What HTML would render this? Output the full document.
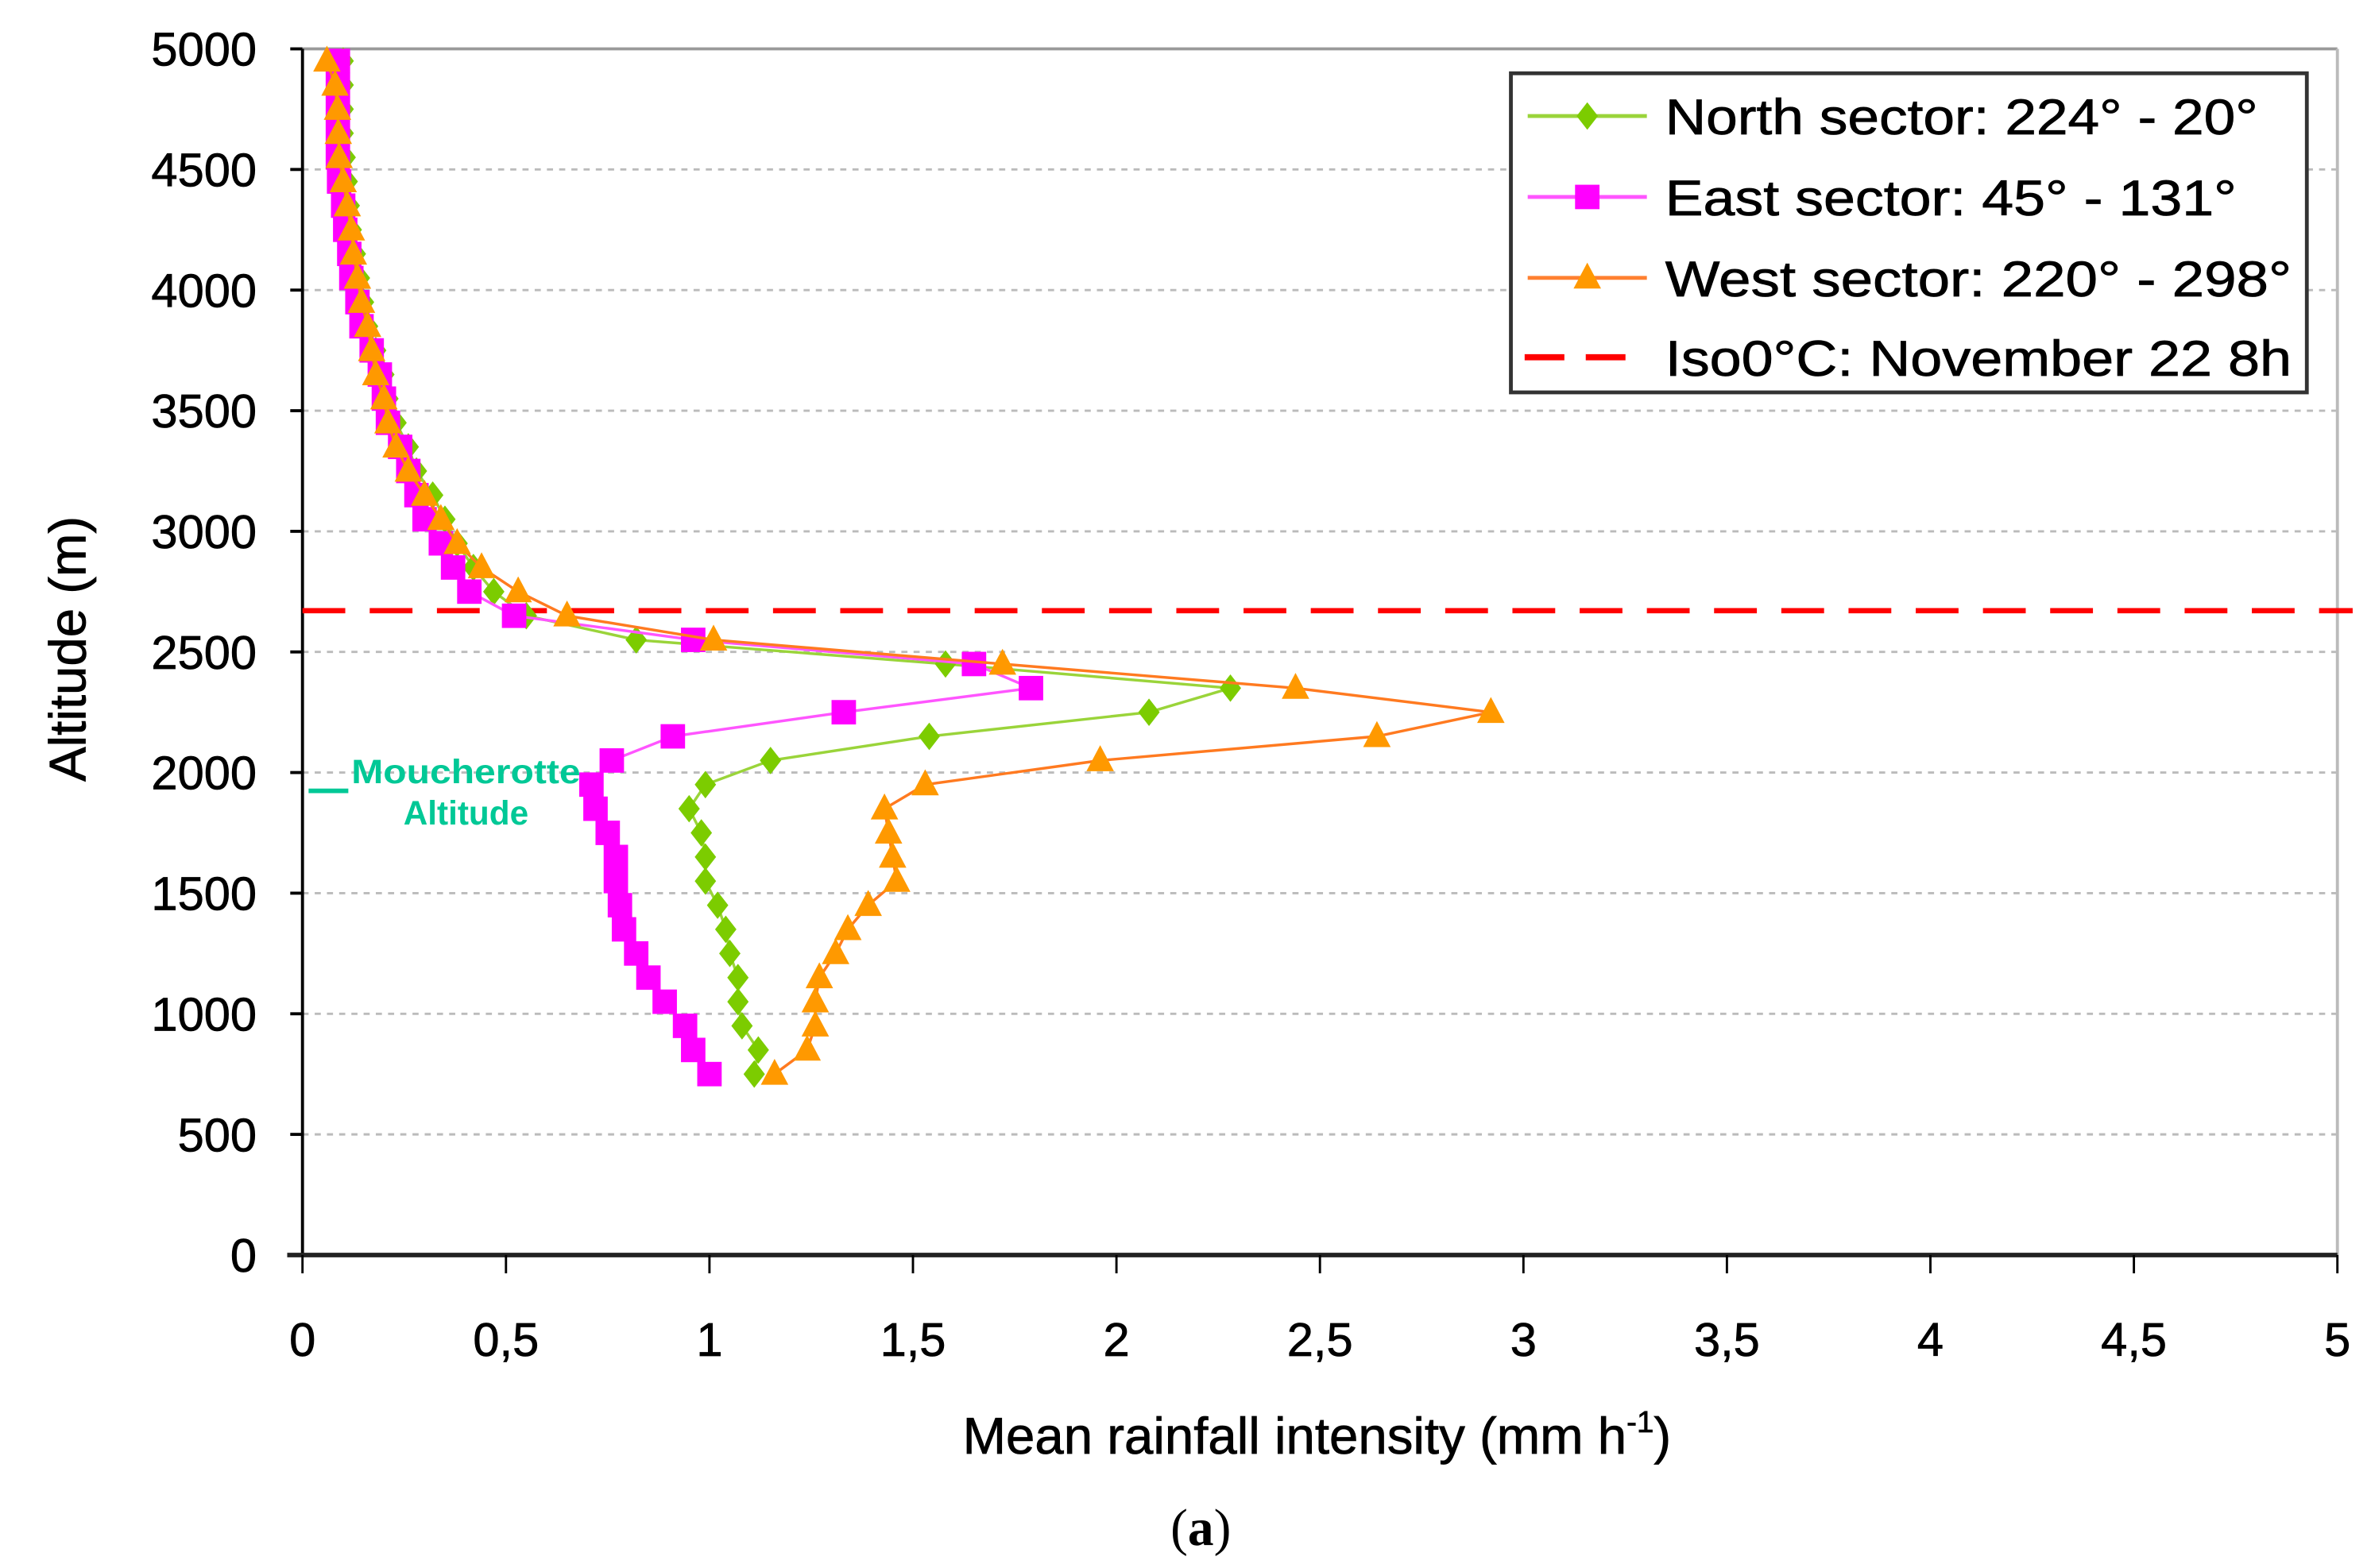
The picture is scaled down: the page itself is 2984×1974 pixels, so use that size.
<!DOCTYPE html>
<html><head><meta charset="utf-8"><style>
html,body{margin:0;padding:0;background:#fff}
svg{display:block}
text{font-family:"Liberation Sans",sans-serif}
</style></head><body>
<svg id="chart" width="2984" height="1974" viewBox="0 0 1552 1027" preserveAspectRatio="none" xmlns="http://www.w3.org/2000/svg">
<rect width="1552" height="1027" fill="#fff"/>
<g id="grid"></g>
<g id="axes"></g>
<g id="series"></g>
<g>
<line x1="202" y1="518" x2="228" y2="518" stroke="#00c896" stroke-width="3"/>
<text x="305" y="513" font-size="22" font-weight="bold" fill="#00c896" text-anchor="middle" textLength="150" lengthAdjust="spacingAndGlyphs">Moucherotte</text>
<text x="305" y="540" font-size="22" font-weight="bold" fill="#00c896" text-anchor="middle">Altitude</text>
</g>
<g>
<rect x="989" y="48" width="521" height="209" fill="#fff" stroke="#333" stroke-width="2.5"/>
<g>
<line x1="1000" y1="76" x2="1078" y2="76" stroke="#9ad43a" stroke-width="2.5"/>
<polygon points="1039,67 1046,76 1039,85 1032,76" fill="#7ccc00"/>
<text x="1090" y="88" font-size="33" stroke="#000" stroke-width="0.4" textLength="388" lengthAdjust="spacingAndGlyphs">North sector: 224° - 20°</text></g>
<g>
<line x1="1000" y1="129" x2="1078" y2="129" stroke="#ff55ff" stroke-width="2.5"/>
<rect x="1031" y="121" width="16" height="16" fill="#ff00ff"/>
<text x="1090" y="141" font-size="33" stroke="#000" stroke-width="0.4" textLength="374" lengthAdjust="spacingAndGlyphs">East sector: 45° - 131°</text></g>
<g>
<line x1="1000" y1="182" x2="1078" y2="182" stroke="#ff8030" stroke-width="2.5"/>
<polygon points="1039,172 1048,189 1030,189" fill="#ff9900"/>
<text x="1090" y="194" font-size="33" stroke="#000" stroke-width="0.4" textLength="410" lengthAdjust="spacingAndGlyphs">West sector: 220° - 298°</text></g>
<g>
<line x1="998" y1="234" x2="1070" y2="234" stroke="#ff0000" stroke-width="4" stroke-dasharray="26,14"/>
<text x="1090" y="246" font-size="33" stroke="#000" stroke-width="0.4" textLength="410" lengthAdjust="spacingAndGlyphs">Iso0°C: November 22 8h</text></g>
</g>
<text transform="translate(56,425) rotate(-90)" font-size="34" stroke="#000" stroke-width="0.4" text-anchor="middle">Altitude (m)</text>
<text x="862" y="952" font-size="34" stroke="#000" stroke-width="0.4" text-anchor="middle">Mean rainfall intensity (mm h<tspan dy="-14" font-size="20">-1</tspan><tspan dy="14">)</tspan></text>
<text x="786" y="1012" font-size="34" text-anchor="middle" style="font-family:'Liberation Serif',serif">(<tspan font-weight="bold">a</tspan>)</text>
</svg>
<script>
const altitudes=[750,850,950,1050,1150,1250,1350,1450,1550,1650,1750,1850,1950,2050,2150,2250,2350,2450,2550,2650,2750,2850,2950,3050,3150,3250,3350,3450,3550,3650,3750,3850,3950,4050,4150,4250,4350,4450,4550,4650,4750,4850,4950];
const northValues=[1.11,1.12,1.08,1.07,1.07,1.05,1.04,1.02,0.99,0.99,0.98,0.95,0.99,1.15,1.54,2.08,2.28,1.58,0.82,0.55,0.47,0.42,0.38,0.35,0.32,0.28,0.26,0.23,0.21,0.2,0.18,0.16,0.15,0.14,0.13,0.12,0.115,0.11,0.105,0.1,0.1,0.1,0.1];
const eastValues=[1.0,0.96,0.94,0.89,0.85,0.82,0.79,0.78,0.77,0.77,0.75,0.72,0.71,0.76,0.91,1.33,1.79,1.65,0.96,0.52,0.41,0.37,0.34,0.3,0.28,0.26,0.24,0.21,0.2,0.19,0.17,0.145,0.135,0.12,0.115,0.105,0.1,0.09,0.087,0.087,0.087,0.087,0.087];
const westValues=[1.16,1.24,1.26,1.26,1.27,1.31,1.34,1.39,1.46,1.45,1.44,1.43,1.53,1.96,2.64,2.92,2.44,1.72,1.01,0.65,0.53,0.44,0.38,0.34,0.3,0.26,0.23,0.21,0.2,0.18,0.17,0.16,0.145,0.135,0.125,0.12,0.11,0.1,0.09,0.088,0.086,0.08,0.06];
const iso0Altitude=2671;
const xTicks=[0,0.5,1,1.5,2,2.5,3,3.5,4,4.5,5];
const xTickLabels=["0","0,5","1","1,5","2","2,5","3","3,5","4","4,5","5"];
const yTicks=[0,500,1000,1500,2000,2500,3000,3500,4000,4500,5000];

const NS='http://www.w3.org/2000/svg';
const X0=198,X1=1530,Y0=822,Y1=32;
function xs(v){return X0+(X1-X0)*v/5;}
function ys(a){return Y0-(Y0-Y1)*a/5000;}
function mk(tag,attrs,parent){const e=document.createElementNS(NS,tag);for(const k in attrs)e.setAttribute(k,attrs[k]);parent.appendChild(e);return e;}
const grid=document.getElementById('grid'),axes=document.getElementById('axes'),ser=document.getElementById('series');
yTicks.forEach(t=>{
  if(t>0&&t<5000){const g=mk('line',{x1:X0,x2:X1,y1:ys(t),y2:ys(t),stroke:'#bbb','stroke-width':1.5,'stroke-dasharray':'4,4'},grid);
  
  }
  const tk=mk('line',{x1:X0-8,x2:X0,y1:ys(t),y2:ys(t),stroke:'#000','stroke-width':2},axes);
  
  
  const l=mk('text',{x:168,y:ys(t)+11,'font-size':31,'text-anchor':'end',stroke:'#000','stroke-width':0.4},axes);l.textContent=t;
  
  
});
mk('line',{x1:X0,x2:X1,y1:Y1,y2:Y1,stroke:'#999','stroke-width':2},axes);
mk('line',{x1:X1,x2:X1,y1:Y1,y2:Y0,stroke:'#bbb','stroke-width':2},axes);
const ya=mk('line',{x1:X0,x2:X0,y1:Y1,y2:Y0,stroke:'#000','stroke-width':2},axes);


const xa=mk('line',{x1:X0-10,x2:X1,y1:Y0,y2:Y0,stroke:'#222','stroke-width':3},axes);


xTicks.forEach((t,i)=>{
  mk('line',{x1:xs(t),x2:xs(t),y1:Y0,y2:Y0+12,stroke:'#000','stroke-width':1.5},axes);
  const l=mk('text',{x:xs(t),y:888,'font-size':31,'text-anchor':'middle',stroke:'#000','stroke-width':0.4},axes);l.textContent=xTickLabels[i];
  
  
});
const iso=mk('line',{x1:X0,x2:1540,y1:ys(iso0Altitude),y2:ys(iso0Altitude),stroke:'#ff0000','stroke-width':3.5,'stroke-dasharray':'28,16'},ser);


function drawSeries(vals,name,lineColor,fill,shape){
  const g=mk('g',{},ser);
  
  
  const pts=vals.map((v,i)=>xs(v)+','+ys(altitudes[i])).join(' ');
  mk('polyline',{points:pts,fill:'none',stroke:lineColor,'stroke-width':1.8},g);
  vals.forEach((v,i)=>{
    const x=xs(v),y=ys(altitudes[i]);let m;
    if(shape==='diamond')m=mk('polygon',{points:`${x},${y-9} ${x+7},${y} ${x},${y+9} ${x-7},${y}`,fill:fill},g);
    else if(shape==='square')m=mk('rect',{x:x-8,y:y-8,width:16,height:16,fill:fill},g);
    else m=mk('polygon',{points:`${x},${y-10} ${x+9},${y+7} ${x-9},${y+7}`,fill:fill},g);
    
    
  });
}
drawSeries(northValues,'north','#9ad43a','#7ccc00','diamond');
drawSeries(eastValues,'east','#ff55ff','#ff00ff','square');
drawSeries(westValues,'west','#ff7a20','#ff9900','triangle');
</script>
</body></html>
